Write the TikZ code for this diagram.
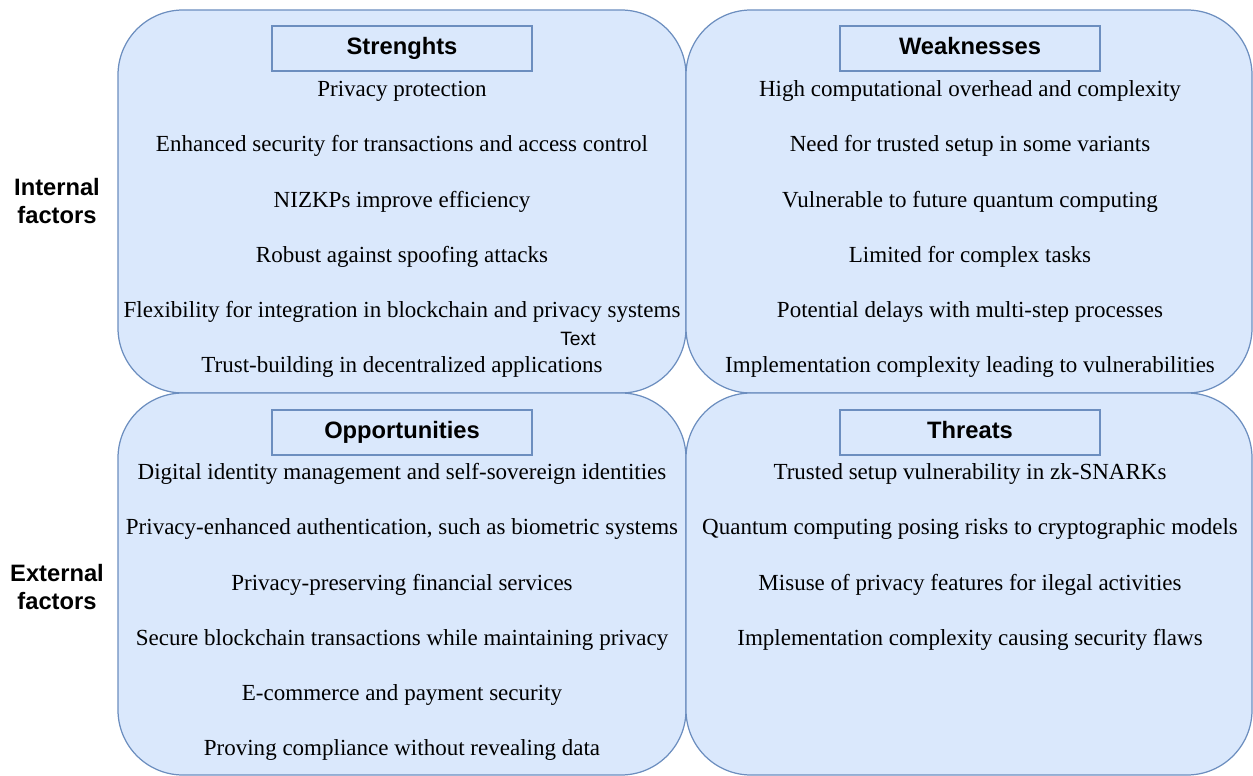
\documentclass[tikz,border=0pt]{standalone}
\usepackage{fontspec}
\setmainfont{Liberation Serif}
\newfontfamily\headfont{Liberation Sans}

\definecolor{quadfill}{HTML}{DAE8FC}
\definecolor{quadline}{HTML}{6C8EBF}

\begin{document}
\begin{tikzpicture}[
        x=0.02cm, y=-0.02cm, % one unit per pixel, y going down
        quadrant/.style={fill=quadfill, draw=quadline, line width=0.7pt, rounded corners=1.3cm},
        title/.style={draw=quadline, line width=0.7pt, minimum width=5.2cm, minimum height=0.9cm,
            text height=0.72em, text depth=0em, % same baseline for all headings
            font=\headfont\bfseries\fontsize{13.5}{16}\selectfont},
        item/.style={font=\fontsize{13.1}{15}\selectfont, inner sep=0pt},
        side/.style={font=\headfont\bfseries\fontsize{13.5}{16}\selectfont, align=center}
    ]
    \useasboundingbox (0,0) rectangle (1253,776);

    % the four quadrants
    \path[quadrant] (118,10) rectangle (686,393);
    \path[quadrant] (686,10) rectangle (1252,393);
    \path[quadrant] (118,393) rectangle (686,775);
    \path[quadrant] (686,393) rectangle (1252,775);

    % headings
    \node[title] (str) at (402,48.5) {Strenghts};
    \node[title] (wea) at (970,48.5) {Weaknesses};
    \node[title] (opp) at (402,432.5) {Opportunities};
    \node[title] (thr) at (970,432.5) {Threats};

    % row labels
    \node[side] (int) at (57,201) {Internal\\factors};
    \node[side] (ext) at (57,587) {External\\factors};

    \foreach \txt [count=\i] in {Privacy protection,
            Enhanced security for transactions and access control,
            NIZKPs improve efficiency,
            Robust against spoofing attacks,
            Flexibility for integration in blockchain and privacy systems,
            Trust-building in decentralized applications}
        \node[item] (s\i) at (402,91+55.2*\i-55.2) {\txt};

    \foreach \txt [count=\i] in {High computational overhead and complexity,
            Need for trusted setup in some variants,
            Vulnerable to future quantum computing,
            Limited for complex tasks,
            Potential delays with multi-step processes,
            Implementation complexity leading to vulnerabilities}
        \node[item] (w\i) at (970,91+55.2*\i-55.2) {\txt};

    \foreach \txt [count=\i] in {Digital identity management and self-sovereign identities,
            {Privacy-enhanced authentication, such as biometric systems},
            Privacy-preserving financial services,
            Secure blockchain transactions while maintaining privacy,
            E-commerce and payment security,
            Proving compliance without revealing data}
        \node[item] (o\i) at (402,474+55.2*\i-55.2) {\txt};

    \foreach \txt [count=\i] in {Trusted setup vulnerability in zk-SNARKs,
            Quantum computing posing risks to cryptographic models,
            Misuse of privacy features for ilegal activities,
            Implementation complexity causing security flaws}
        \node[item] (t\i) at (970,474+55.2*\i-55.2) {\txt};

    % stray label
    \node[font=\headfont\fontsize{11}{13}\selectfont, inner sep=0pt] (lbl) at (578,339) {Text};
\end{tikzpicture}
\end{document}
